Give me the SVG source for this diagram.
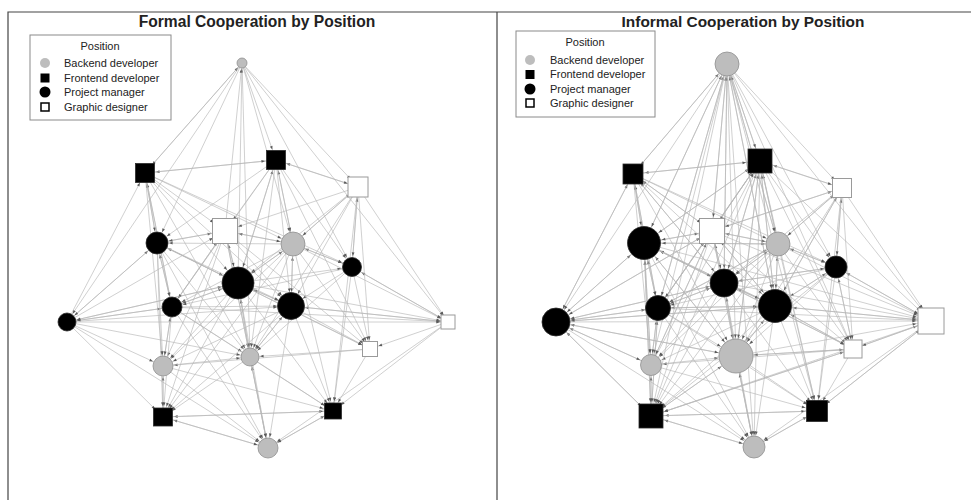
<svg xmlns="http://www.w3.org/2000/svg" width="971" height="500" viewBox="0 0 971 500">
<style>
.e path{fill:none;stroke:#b6b6b6;stroke-width:0.65}
marker{overflow:visible}
.ah{fill:#5a5a5a}
.g{fill:#bdbdbd;stroke:#8f8f8f;stroke-width:0.8}
.b{fill:#000;stroke:#2a2a2a;stroke-width:0.8}
.w{fill:#fff;stroke:#9a9a9a;stroke-width:1}
.frame{stroke:#444;stroke-width:1.2;fill:none}
.title{font-family:"Liberation Sans",Arial,sans-serif;font-weight:bold;fill:#222;text-anchor:middle}
.lg{font-family:"Liberation Sans",Arial,sans-serif;font-size:11px;fill:#222}
.lbox{fill:#fff;stroke:#8a8a8a;stroke-width:1}
</style>
<defs>
<marker id="m6" markerUnits="userSpaceOnUse" markerWidth="1" markerHeight="1" refX="6" refY="0" orient="auto" overflow="visible"><path class="ah" d="M0 0L-3.6-1.4L-3.6 1.4Z"/></marker>
<marker id="m8" markerUnits="userSpaceOnUse" markerWidth="1" markerHeight="1" refX="8" refY="0" orient="auto" overflow="visible"><path class="ah" d="M0 0L-3.6-1.4L-3.6 1.4Z"/></marker>
<marker id="m9" markerUnits="userSpaceOnUse" markerWidth="1" markerHeight="1" refX="9" refY="0" orient="auto" overflow="visible"><path class="ah" d="M0 0L-3.6-1.4L-3.6 1.4Z"/></marker>
<marker id="m10" markerUnits="userSpaceOnUse" markerWidth="1" markerHeight="1" refX="10" refY="0" orient="auto" overflow="visible"><path class="ah" d="M0 0L-3.6-1.4L-3.6 1.4Z"/></marker>
<marker id="m11" markerUnits="userSpaceOnUse" markerWidth="1" markerHeight="1" refX="11" refY="0" orient="auto" overflow="visible"><path class="ah" d="M0 0L-3.6-1.4L-3.6 1.4Z"/></marker>
<marker id="m12" markerUnits="userSpaceOnUse" markerWidth="1" markerHeight="1" refX="12" refY="0" orient="auto" overflow="visible"><path class="ah" d="M0 0L-3.6-1.4L-3.6 1.4Z"/></marker>
<marker id="m13" markerUnits="userSpaceOnUse" markerWidth="1" markerHeight="1" refX="13" refY="0" orient="auto" overflow="visible"><path class="ah" d="M0 0L-3.6-1.4L-3.6 1.4Z"/></marker>
<marker id="m14" markerUnits="userSpaceOnUse" markerWidth="1" markerHeight="1" refX="14" refY="0" orient="auto" overflow="visible"><path class="ah" d="M0 0L-3.6-1.4L-3.6 1.4Z"/></marker>
<marker id="m15" markerUnits="userSpaceOnUse" markerWidth="1" markerHeight="1" refX="15" refY="0" orient="auto" overflow="visible"><path class="ah" d="M0 0L-3.6-1.4L-3.6 1.4Z"/></marker>
<marker id="m17" markerUnits="userSpaceOnUse" markerWidth="1" markerHeight="1" refX="17" refY="0" orient="auto" overflow="visible"><path class="ah" d="M0 0L-3.6-1.4L-3.6 1.4Z"/></marker>
<marker id="m18" markerUnits="userSpaceOnUse" markerWidth="1" markerHeight="1" refX="18" refY="0" orient="auto" overflow="visible"><path class="ah" d="M0 0L-3.6-1.4L-3.6 1.4Z"/></marker>
</defs>
<rect width="971" height="500" fill="#fff"/>
<g id="frame">
<path class="frame" d="M8 500V12H971M497 12V500"/>
</g>
<text class="title" x="257" y="27" font-size="15.6">Formal Cooperation by Position</text>
<text class="title" x="743" y="27" font-size="15.4">Informal Cooperation by Position</text>

<g id="legend-formal">
<rect class="lbox" x="30" y="35" width="141" height="85"/>
<text class="lg" x="100" y="50" text-anchor="middle">Position</text>
<circle cx="45" cy="63" r="5" fill="#bdbdbd"/>
<rect x="40.5" y="73.5" width="9" height="9" fill="#000"/>
<circle cx="45" cy="92" r="5.5" fill="#000"/>
<rect x="41" y="103" width="8" height="8" fill="#fff" stroke="#000" stroke-width="1.5"/>
<text class="lg" x="64" y="67">Backend developer</text>
<text class="lg" x="64" y="82">Frontend developer</text>
<text class="lg" x="64" y="96">Project manager</text>
<text class="lg" x="64" y="111">Graphic designer</text>
</g>

<g id="legend-informal">
<rect class="lbox" x="516" y="31" width="139" height="86"/>
<text class="lg" x="585" y="46" text-anchor="middle">Position</text>
<circle cx="530" cy="60" r="5" fill="#bdbdbd"/>
<rect x="525.5" y="70" width="9" height="9" fill="#000"/>
<circle cx="530" cy="89" r="5.5" fill="#000"/>
<rect x="526" y="99" width="8" height="8" fill="#fff" stroke="#000" stroke-width="1.5"/>
<text class="lg" x="550" y="64">Backend developer</text>
<text class="lg" x="550" y="78">Frontend developer</text>
<text class="lg" x="550" y="93">Project manager</text>
<text class="lg" x="550" y="107">Graphic designer</text>
</g>

<g id="connectors-formal" class="e">
<g marker-end="url(#m6)"><path d="M145 173 242 63"/><path d="M225 231 242 63"/><path d="M238 283 242 63"/></g>
<g marker-end="url(#m11)"><path d="M242 63 145 173"/><path d="M276 160 145 173"/><path d="M157 243 145 173"/><path d="M172 307 145 173"/><path d="M67 322 145 173"/></g>
<g marker-end="url(#m11)"><path d="M242 63 276 160"/><path d="M145 173 276 160"/><path d="M358 187 276 160"/><path d="M293 244 276 160"/><path d="M238 283 276 160"/></g>
<g marker-end="url(#m11)"><path d="M242 63 358 187"/><path d="M276 160 358 187"/><path d="M293 244 358 187"/><path d="M352 267 358 187"/></g>
<g marker-end="url(#m14)"><path d="M145 173 225 231"/><path d="M276 160 225 231"/><path d="M358 187 225 231"/><path d="M293 244 225 231"/><path d="M157 243 225 231"/><path d="M238 283 225 231"/><path d="M172 307 225 231"/><path d="M67 322 225 231"/></g>
<g marker-end="url(#m13)"><path d="M242 63 293 244"/><path d="M145 173 293 244"/><path d="M276 160 293 244"/><path d="M358 187 293 244"/><path d="M225 231 293 244"/><path d="M238 283 293 244"/><path d="M291 306 293 244"/><path d="M352 267 293 244"/></g>
<g marker-end="url(#m12)"><path d="M242 63 157 243"/><path d="M145 173 157 243"/><path d="M276 160 157 243"/><path d="M225 231 157 243"/><path d="M293 244 157 243"/><path d="M238 283 157 243"/><path d="M172 307 157 243"/><path d="M67 322 157 243"/></g>
<g marker-end="url(#m17)"><path d="M145 173 238 283"/><path d="M276 160 238 283"/><path d="M358 187 238 283"/><path d="M225 231 238 283"/><path d="M293 244 238 283"/><path d="M157 243 238 283"/><path d="M172 307 238 283"/><path d="M291 306 238 283"/><path d="M250 357 238 283"/><path d="M67 322 238 283"/></g>
<g marker-end="url(#m11)"><path d="M242 63 352 267"/><path d="M145 173 352 267"/><path d="M276 160 352 267"/><path d="M358 187 352 267"/><path d="M293 244 352 267"/><path d="M238 283 352 267"/><path d="M448 322 352 267"/></g>
<g marker-end="url(#m11)"><path d="M145 173 172 307"/><path d="M276 160 172 307"/><path d="M225 231 172 307"/><path d="M293 244 172 307"/><path d="M157 243 172 307"/><path d="M238 283 172 307"/><path d="M352 267 172 307"/><path d="M67 322 172 307"/><path d="M163 366 172 307"/></g>
<g marker-end="url(#m14)"><path d="M145 173 291 306"/><path d="M276 160 291 306"/><path d="M358 187 291 306"/><path d="M225 231 291 306"/><path d="M293 244 291 306"/><path d="M157 243 291 306"/><path d="M238 283 291 306"/><path d="M352 267 291 306"/><path d="M172 307 291 306"/><path d="M67 322 291 306"/><path d="M448 322 291 306"/><path d="M250 357 291 306"/></g>
<g marker-end="url(#m10)"><path d="M242 63 67 322"/><path d="M157 243 67 322"/><path d="M238 283 67 322"/><path d="M172 307 67 322"/></g>
<g marker-end="url(#m8)"><path d="M242 63 448 322"/><path d="M358 187 448 322"/><path d="M293 244 448 322"/><path d="M238 283 448 322"/><path d="M352 267 448 322"/><path d="M172 307 448 322"/><path d="M291 306 448 322"/><path d="M67 322 448 322"/></g>
<g marker-end="url(#m9)"><path d="M276 160 370 349"/><path d="M358 187 370 349"/><path d="M225 231 370 349"/><path d="M293 244 370 349"/><path d="M157 243 370 349"/><path d="M238 283 370 349"/><path d="M352 267 370 349"/><path d="M291 306 370 349"/><path d="M448 322 370 349"/></g>
<g marker-end="url(#m11)"><path d="M145 173 163 366"/><path d="M225 231 163 366"/><path d="M293 244 163 366"/><path d="M157 243 163 366"/><path d="M238 283 163 366"/><path d="M172 307 163 366"/><path d="M291 306 163 366"/><path d="M67 322 163 366"/><path d="M370 349 163 366"/><path d="M163 417 163 366"/></g>
<g marker-end="url(#m10)"><path d="M242 63 250 357"/><path d="M145 173 250 357"/><path d="M276 160 250 357"/><path d="M358 187 250 357"/><path d="M225 231 250 357"/><path d="M293 244 250 357"/><path d="M157 243 250 357"/><path d="M238 283 250 357"/><path d="M352 267 250 357"/><path d="M172 307 250 357"/><path d="M291 306 250 357"/><path d="M67 322 250 357"/><path d="M370 349 250 357"/><path d="M163 366 250 357"/><path d="M268 448 250 357"/></g>
<g marker-end="url(#m11)"><path d="M225 231 163 417"/><path d="M293 244 163 417"/><path d="M157 243 163 417"/><path d="M238 283 163 417"/><path d="M172 307 163 417"/><path d="M291 306 163 417"/><path d="M67 322 163 417"/><path d="M163 366 163 417"/><path d="M250 357 163 417"/><path d="M333 411 163 417"/><path d="M268 448 163 417"/></g>
<g marker-end="url(#m10)"><path d="M358 187 333 411"/><path d="M293 244 333 411"/><path d="M238 283 333 411"/><path d="M352 267 333 411"/><path d="M172 307 333 411"/><path d="M291 306 333 411"/><path d="M448 322 333 411"/><path d="M370 349 333 411"/><path d="M163 366 333 411"/><path d="M250 357 333 411"/><path d="M163 417 333 411"/><path d="M268 448 333 411"/></g>
<g marker-end="url(#m11)"><path d="M225 231 268 448"/><path d="M157 243 268 448"/><path d="M238 283 268 448"/><path d="M172 307 268 448"/><path d="M291 306 268 448"/><path d="M67 322 268 448"/><path d="M448 322 268 448"/><path d="M163 366 268 448"/><path d="M250 357 268 448"/><path d="M163 417 268 448"/><path d="M333 411 268 448"/></g>
</g>

<g id="connectors-informal" class="e">
<g marker-end="url(#m13)"><path d="M633 174 727 64"/><path d="M760 161 727 64"/><path d="M712 231 727 64"/><path d="M644 243 727 64"/><path d="M724 283 727 64"/><path d="M658 308 727 64"/><path d="M775 306 727 64"/><path d="M778 244 727 64"/></g>
<g marker-end="url(#m12)"><path d="M727 64 633 174"/><path d="M760 161 633 174"/><path d="M712 231 633 174"/><path d="M644 243 633 174"/><path d="M658 308 633 174"/><path d="M556 322 633 174"/><path d="M724 283 633 174"/></g>
<g marker-end="url(#m14)"><path d="M727 64 760 161"/><path d="M633 174 760 161"/><path d="M842 188 760 161"/><path d="M712 231 760 161"/><path d="M778 244 760 161"/><path d="M644 243 760 161"/><path d="M724 283 760 161"/><path d="M658 308 760 161"/><path d="M775 306 760 161"/><path d="M651 365 760 161"/><path d="M736 356 760 161"/></g>
<g marker-end="url(#m11)"><path d="M727 64 842 188"/><path d="M760 161 842 188"/><path d="M778 244 842 188"/><path d="M836 267 842 188"/><path d="M712 231 842 188"/><path d="M775 306 842 188"/></g>
<g marker-end="url(#m14)"><path d="M727 64 712 231"/><path d="M633 174 712 231"/><path d="M760 161 712 231"/><path d="M842 188 712 231"/><path d="M778 244 712 231"/><path d="M644 243 712 231"/><path d="M724 283 712 231"/><path d="M658 308 712 231"/><path d="M556 322 712 231"/><path d="M775 306 712 231"/><path d="M651 365 712 231"/></g>
<g marker-end="url(#m13)"><path d="M727 64 778 244"/><path d="M633 174 778 244"/><path d="M760 161 778 244"/><path d="M842 188 778 244"/><path d="M712 231 778 244"/><path d="M724 283 778 244"/><path d="M836 267 778 244"/><path d="M775 306 778 244"/><path d="M644 243 778 244"/><path d="M658 308 778 244"/></g>
<g marker-end="url(#m18)"><path d="M727 64 644 243"/><path d="M633 174 644 243"/><path d="M760 161 644 243"/><path d="M712 231 644 243"/><path d="M778 244 644 243"/><path d="M724 283 644 243"/><path d="M658 308 644 243"/><path d="M556 322 644 243"/><path d="M775 306 644 243"/><path d="M651 365 644 243"/><path d="M736 356 644 243"/><path d="M651 416 644 243"/></g>
<g marker-end="url(#m15)"><path d="M727 64 724 283"/><path d="M633 174 724 283"/><path d="M760 161 724 283"/><path d="M842 188 724 283"/><path d="M712 231 724 283"/><path d="M778 244 724 283"/><path d="M644 243 724 283"/><path d="M658 308 724 283"/><path d="M775 306 724 283"/><path d="M556 322 724 283"/><path d="M736 356 724 283"/><path d="M836 267 724 283"/></g>
<g marker-end="url(#m12)"><path d="M727 64 836 267"/><path d="M633 174 836 267"/><path d="M760 161 836 267"/><path d="M842 188 836 267"/><path d="M778 244 836 267"/><path d="M724 283 836 267"/><path d="M775 306 836 267"/><path d="M931 321 836 267"/><path d="M853 349 836 267"/></g>
<g marker-end="url(#m13)"><path d="M727 64 658 308"/><path d="M633 174 658 308"/><path d="M760 161 658 308"/><path d="M712 231 658 308"/><path d="M778 244 658 308"/><path d="M644 243 658 308"/><path d="M724 283 658 308"/><path d="M836 267 658 308"/><path d="M556 322 658 308"/><path d="M651 365 658 308"/><path d="M775 306 658 308"/><path d="M651 416 658 308"/></g>
<g marker-end="url(#m18)"><path d="M727 64 775 306"/><path d="M633 174 775 306"/><path d="M760 161 775 306"/><path d="M842 188 775 306"/><path d="M712 231 775 306"/><path d="M778 244 775 306"/><path d="M644 243 775 306"/><path d="M724 283 775 306"/><path d="M836 267 775 306"/><path d="M658 308 775 306"/><path d="M556 322 775 306"/><path d="M931 321 775 306"/><path d="M736 356 775 306"/><path d="M853 349 775 306"/></g>
<g marker-end="url(#m15)"><path d="M727 64 556 322"/><path d="M644 243 556 322"/><path d="M724 283 556 322"/><path d="M658 308 556 322"/><path d="M633 174 556 322"/><path d="M712 231 556 322"/><path d="M775 306 556 322"/><path d="M651 365 556 322"/><path d="M651 416 556 322"/><path d="M736 356 556 322"/></g>
<g marker-end="url(#m15)"><path d="M727 64 931 321"/><path d="M842 188 931 321"/><path d="M778 244 931 321"/><path d="M724 283 931 321"/><path d="M836 267 931 321"/><path d="M658 308 931 321"/><path d="M775 306 931 321"/><path d="M556 322 931 321"/><path d="M760 161 931 321"/><path d="M644 243 931 321"/><path d="M712 231 931 321"/><path d="M853 349 931 321"/><path d="M736 356 931 321"/><path d="M817 411 931 321"/></g>
<g marker-end="url(#m10)"><path d="M727 64 853 349"/><path d="M760 161 853 349"/><path d="M842 188 853 349"/><path d="M712 231 853 349"/><path d="M778 244 853 349"/><path d="M644 243 853 349"/><path d="M724 283 853 349"/><path d="M836 267 853 349"/><path d="M775 306 853 349"/><path d="M931 321 853 349"/><path d="M736 356 853 349"/><path d="M651 416 853 349"/></g>
<g marker-end="url(#m12)"><path d="M727 64 651 365"/><path d="M633 174 651 365"/><path d="M712 231 651 365"/><path d="M778 244 651 365"/><path d="M644 243 651 365"/><path d="M724 283 651 365"/><path d="M658 308 651 365"/><path d="M775 306 651 365"/><path d="M556 322 651 365"/><path d="M853 349 651 365"/><path d="M651 416 651 365"/></g>
<g marker-end="url(#m18)"><path d="M727 64 736 356"/><path d="M633 174 736 356"/><path d="M760 161 736 356"/><path d="M842 188 736 356"/><path d="M712 231 736 356"/><path d="M778 244 736 356"/><path d="M644 243 736 356"/><path d="M724 283 736 356"/><path d="M836 267 736 356"/><path d="M658 308 736 356"/><path d="M775 306 736 356"/><path d="M556 322 736 356"/><path d="M853 349 736 356"/><path d="M651 365 736 356"/><path d="M754 447 736 356"/><path d="M651 416 736 356"/></g>
<g marker-end="url(#m14)"><path d="M727 64 651 416"/><path d="M760 161 651 416"/><path d="M712 231 651 416"/><path d="M778 244 651 416"/><path d="M644 243 651 416"/><path d="M724 283 651 416"/><path d="M658 308 651 416"/><path d="M775 306 651 416"/><path d="M556 322 651 416"/><path d="M853 349 651 416"/><path d="M651 365 651 416"/><path d="M736 356 651 416"/><path d="M817 411 651 416"/><path d="M754 447 651 416"/><path d="M836 267 651 416"/><path d="M931 321 651 416"/></g>
<g marker-end="url(#m12)"><path d="M727 64 817 411"/><path d="M842 188 817 411"/><path d="M778 244 817 411"/><path d="M724 283 817 411"/><path d="M836 267 817 411"/><path d="M658 308 817 411"/><path d="M775 306 817 411"/><path d="M931 321 817 411"/><path d="M853 349 817 411"/><path d="M651 365 817 411"/><path d="M736 356 817 411"/><path d="M651 416 817 411"/><path d="M754 447 817 411"/><path d="M760 161 817 411"/></g>
<g marker-end="url(#m12)"><path d="M727 64 754 447"/><path d="M712 231 754 447"/><path d="M644 243 754 447"/><path d="M724 283 754 447"/><path d="M658 308 754 447"/><path d="M775 306 754 447"/><path d="M556 322 754 447"/><path d="M931 321 754 447"/><path d="M651 365 754 447"/><path d="M736 356 754 447"/><path d="M651 416 754 447"/><path d="M817 411 754 447"/><path d="M760 161 754 447"/></g>
</g>

<g id="nodes-formal">
<g id="f0"><circle class="g" cx="242" cy="63" r="5"/></g>
<g id="f1"><rect class="b" x="135.5" y="163.5" width="19" height="19"/></g>
<g id="f2"><rect class="b" x="266.5" y="150.5" width="19" height="19"/></g>
<g id="f3"><rect class="w" x="348" y="177" width="20" height="20"/></g>
<g id="f4"><rect class="w" x="212.5" y="218.5" width="25" height="25"/></g>
<g id="f5"><circle class="g" cx="293" cy="244" r="12"/></g>
<g id="f6"><circle class="b" cx="157" cy="243" r="11"/></g>
<g id="f7"><circle class="b" cx="238" cy="283" r="16"/></g>
<g id="f8"><circle class="b" cx="352" cy="267" r="9.5"/></g>
<g id="f9"><circle class="b" cx="172" cy="307" r="10"/></g>
<g id="f10"><circle class="b" cx="291" cy="306" r="13.5"/></g>
<g id="f11"><circle class="b" cx="67" cy="322" r="9"/></g>
<g id="f12"><rect class="w" x="441" y="315" width="14" height="14"/></g>
<g id="f13"><rect class="w" x="362.5" y="341.5" width="15" height="15"/></g>
<g id="f14"><circle class="g" cx="163" cy="366" r="10"/></g>
<g id="f15"><circle class="g" cx="250" cy="357" r="9"/></g>
<g id="f16"><rect class="b" x="153.5" y="408" width="19" height="18"/></g>
<g id="f17"><rect class="b" x="324.5" y="403" width="17" height="16"/></g>
<g id="f18"><circle class="g" cx="268" cy="448" r="10"/></g>
</g>

<g id="nodes-informal">
<g id="i0"><circle class="g" cx="727" cy="64" r="12"/></g>
<g id="i1"><rect class="b" x="623" y="164" width="20" height="20"/></g>
<g id="i2"><rect class="b" x="748" y="149" width="24" height="24"/></g>
<g id="i3"><rect class="w" x="832.5" y="178.5" width="19" height="19"/></g>
<g id="i4"><rect class="w" x="699.5" y="218.5" width="25" height="25"/></g>
<g id="i5"><circle class="g" cx="778" cy="244" r="12"/></g>
<g id="i6"><circle class="b" cx="644" cy="243" r="16.5"/></g>
<g id="i7"><circle class="b" cx="724" cy="283" r="14"/></g>
<g id="i8"><circle class="b" cx="836" cy="267" r="11"/></g>
<g id="i9"><circle class="b" cx="658" cy="308" r="12.5"/></g>
<g id="i10"><circle class="b" cx="775" cy="306" r="16.5"/></g>
<g id="i11"><circle class="b" cx="556" cy="322" r="14"/></g>
<g id="i12"><rect class="w" x="918" y="308" width="26" height="26"/></g>
<g id="i13"><rect class="w" x="844" y="340" width="18" height="18"/></g>
<g id="i14"><circle class="g" cx="651" cy="365" r="10.5"/></g>
<g id="i15"><circle class="g" cx="736" cy="356" r="17"/></g>
<g id="i16"><rect class="b" x="639" y="404" width="24" height="24"/></g>
<g id="i17"><rect class="b" x="806.5" y="400.5" width="21" height="21"/></g>
<g id="i18"><circle class="g" cx="754" cy="447" r="11"/></g>
</g>
</svg>
